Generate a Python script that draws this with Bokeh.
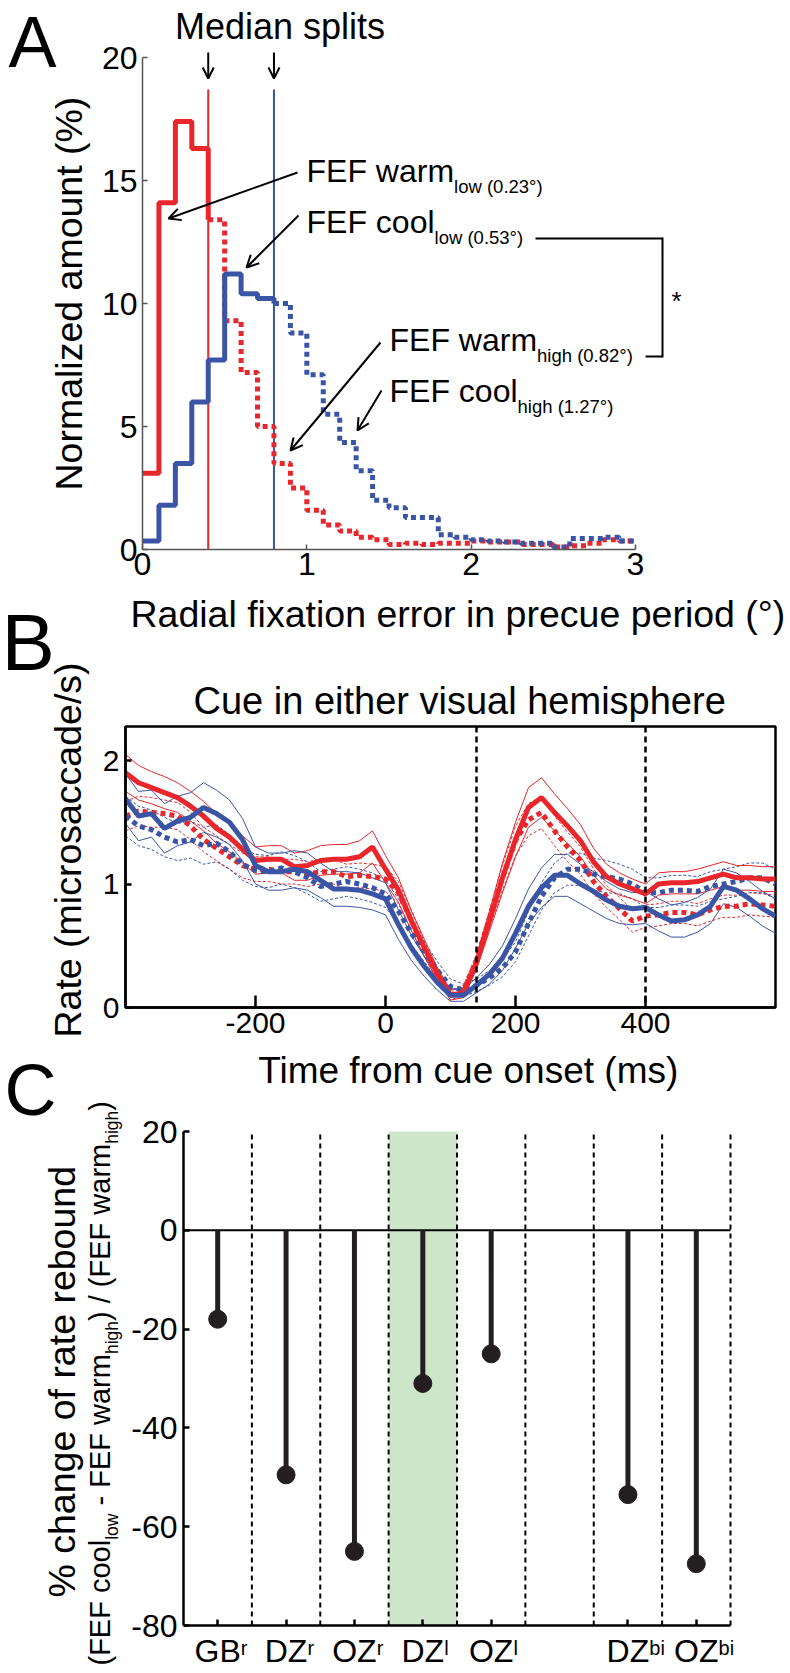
import math
from bokeh.plotting import figure
from bokeh.layouts import column, row
from bokeh.models import Label, Arrow, OpenHead, Span, FixedTicker, Range1d, Title
from bokeh.embed import file_html
from bokeh.resources import INLINE

# ======================= DATA =======================
# Panel A: normalized histograms (%) of radial fixation error, 0.1 deg bins (0..3 deg)
bin_width = 0.1
warm_pct = [3.1, 14.1, 17.4, 16.3, 13.4, 9.3, 7.2, 5.0, 3.5, 2.5,
            1.6, 1.0, 0.75, 0.5, 0.4, 0.2, 0.25, 0.2, 0.25, 0.25,
            0.35, 0.3, 0.3, 0.2, 0.2, 0.1, 0.15, 0.25, 0.4, 0.35]
cool_pct = [0.35, 1.8, 3.5, 6.0, 7.7, 11.2, 10.4, 10.2, 10.0, 8.8,
            7.1, 5.5, 4.35, 3.2, 2.0, 1.7, 1.3, 1.3, 0.6, 0.5,
            0.4, 0.35, 0.3, 0.25, 0.25, 0.1, 0.45, 0.45, 0.5, 0.35]
median_warm = 0.4
median_cool = 0.8
median_line_top = 18.7
a_labels = [("FEF warm", "low (0.23°)"), ("FEF cool", "low (0.53°)"),
            ("FEF warm", "high (0.82°)"), ("FEF cool", "high (1.27°)")]
a_xticks = [0, 1, 2, 3]
a_yticks = [0, 5, 10, 15, 20]

# Panel B: microsaccade rate (microsaccades/s) vs time from cue onset
time_ms = list(range(-400, 601, 20))
warm_low = [1.90, 1.82, 1.78, 1.74, 1.70, 1.63, 1.55, 1.45, 1.38, 1.28, 1.19,
            1.20, 1.20, 1.14, 1.15, 1.19, 1.20, 1.20, 1.22, 1.30, 1.12,
            0.95, 0.70, 0.48, 0.27, 0.10, 0.12, 0.36, 0.70, 1.05, 1.36,
            1.62, 1.70, 1.58, 1.47, 1.35, 1.18, 1.06, 1.00, 0.96, 0.92,
            1.00, 1.01, 1.01, 1.02, 1.05, 1.08, 1.05, 1.05, 1.04, 1.04]
warm_low_sem = [0.15, 0.14, 0.13, 0.13, 0.12, 0.12, 0.12, 0.12, 0.12, 0.11, 0.11,
                0.11, 0.11, 0.11, 0.12, 0.12, 0.12, 0.12, 0.13, 0.13, 0.11,
                0.10, 0.08, 0.07, 0.05, 0.04, 0.04, 0.05, 0.08, 0.12, 0.14,
                0.16, 0.16, 0.15, 0.14, 0.13, 0.11, 0.10, 0.09, 0.08, 0.08,
                0.09, 0.09, 0.09, 0.10, 0.10, 0.10, 0.10, 0.10, 0.10, 0.10]
cool_low = [1.69, 1.55, 1.57, 1.45, 1.51, 1.54, 1.62, 1.57, 1.50, 1.36, 1.15,
            1.10, 1.10, 1.12, 1.10, 1.03, 0.96, 0.96, 0.95, 0.92, 0.88,
            0.67, 0.48, 0.33, 0.20, 0.10, 0.10, 0.18, 0.27, 0.40, 0.60,
            0.82, 0.97, 1.07, 1.07, 1.00, 0.94, 0.87, 0.82, 0.80, 0.81,
            0.75, 0.70, 0.71, 0.75, 0.82, 0.98, 0.95, 0.88, 0.80, 0.74]
cool_low_sem = [0.20, 0.20, 0.19, 0.20, 0.20, 0.20, 0.20, 0.19, 0.18, 0.17, 0.15,
                0.15, 0.15, 0.15, 0.15, 0.14, 0.14, 0.14, 0.14, 0.13, 0.13,
                0.12, 0.10, 0.08, 0.06, 0.05, 0.05, 0.06, 0.08, 0.10, 0.12,
                0.14, 0.16, 0.17, 0.17, 0.16, 0.16, 0.15, 0.14, 0.13, 0.13,
                0.13, 0.13, 0.14, 0.14, 0.14, 0.14, 0.14, 0.14, 0.14, 0.14]
warm_high = [1.55, 1.59, 1.58, 1.57, 1.55, 1.47, 1.36, 1.29, 1.22, 1.15, 1.12,
             1.12, 1.10, 1.10, 1.08, 1.10, 1.10, 1.06, 1.07, 1.06, 1.04,
             0.93, 0.70, 0.47, 0.27, 0.10, 0.14, 0.38, 0.72, 1.05, 1.35,
             1.52, 1.58, 1.43, 1.30, 1.19, 1.02, 0.90, 0.80, 0.70, 0.74,
             0.75, 0.77, 0.77, 0.75, 0.79, 0.82, 0.82, 0.84, 0.83, 0.82]
warm_high_sem = [0.12, 0.12, 0.12, 0.11, 0.11, 0.11, 0.10, 0.10, 0.10, 0.10, 0.10,
                 0.10, 0.10, 0.10, 0.10, 0.10, 0.10, 0.10, 0.10, 0.10, 0.10,
                 0.09, 0.08, 0.06, 0.05, 0.04, 0.04, 0.05, 0.07, 0.10, 0.12,
                 0.13, 0.13, 0.12, 0.12, 0.11, 0.10, 0.09, 0.09, 0.09, 0.09,
                 0.09, 0.09, 0.09, 0.09, 0.09, 0.09, 0.09, 0.09, 0.09, 0.09]
cool_high = [1.55, 1.47, 1.44, 1.38, 1.34, 1.36, 1.31, 1.33, 1.26, 1.16, 1.11,
             1.10, 1.13, 1.10, 1.05, 0.98, 1.00, 1.02, 1.00, 0.97, 0.92,
             0.78, 0.60, 0.45, 0.30, 0.17, 0.14, 0.18, 0.24, 0.32, 0.45,
             0.68, 0.90, 1.05, 1.12, 1.12, 1.08, 1.06, 1.04, 1.00, 0.93,
             0.93, 0.95, 0.95, 0.94, 0.98, 1.00, 1.02, 1.05, 1.05, 1.00]
cool_high_sem = [0.16, 0.16, 0.16, 0.16, 0.15, 0.15, 0.15, 0.15, 0.14, 0.13, 0.13,
                 0.13, 0.13, 0.13, 0.13, 0.12, 0.12, 0.12, 0.12, 0.12, 0.11,
                 0.10, 0.09, 0.08, 0.07, 0.06, 0.05, 0.05, 0.06, 0.07, 0.08,
                 0.10, 0.11, 0.12, 0.13, 0.13, 0.13, 0.13, 0.12, 0.12, 0.12,
                 0.12, 0.12, 0.12, 0.12, 0.12, 0.12, 0.12, 0.12, 0.12, 0.12]
event_times = [140, 400]
b_xticks = [-200, 0, 200, 400]
b_yticks = [0, 1, 2]

# Panel C: % change of rate rebound per inactivation site
sites = ["GB", "DZ", "OZ", "DZ", "OZ", "DZ", "OZ"]
sides = ["r", "r", "r", "l", "l", "bi", "bi"]
site_pos = [1, 2, 3, 4, 5, 7, 8]
pct_change = [-18, -49.5, -65, -31, -25, -53.5, -67.5]
separators = [1.5, 2.5, 3.5, 4.5, 5.5, 6.5, 7.5, 8.5]
highlight_span = [3.5, 4.5]
c_xbounds = [0.5, 8.5]
c_yticks = [-80, -60, -40, -20, 0, 20]

# ======================= STYLE / LAYOUT =======================
FONT = "Liberation Sans"
RED = "#E8262B"
BLUE = "#3A55A5"
DARK = "#231F20"
GREEN = "#CDE6C9"
K = 0.347   # baseline offset below the text-box centre, in em

AW = {' ': 278, '(': 333, ')': 333, '-': 333, '.': 278, '/': 278, '%': 889, '*': 389, '°': 400,
      'A': 667, 'B': 667, 'C': 722, 'D': 722, 'E': 667, 'F': 611, 'G': 778, 'M': 833, 'N': 722,
      'O': 778, 'R': 722, 'T': 611, 'Z': 611,
      'a': 556, 'b': 556, 'c': 500, 'd': 556, 'e': 556, 'f': 278, 'g': 556, 'h': 556, 'i': 222,
      'l': 222, 'm': 833, 'n': 556, 'o': 556, 'p': 556, 'r': 333, 's': 500, 't': 278, 'u': 556,
      'v': 500, 'w': 722, 'x': 500, 'z': 500}


def tw(s, size):
    return sum(AW.get(ch, 556) for ch in s) * size / 1000.0


def lin(d0, p0, d1, p1):
    s = (p1 - p0) / (d1 - d0)
    return (lambda P: d0 + (P - p0) / s)


def no_align(p):
    try:
        p.frame_align = False
    except Exception:
        pass


def make_main(canvas, frame, xmap, ymap):
    """canvas/frame = (left, right, top, bottom) in page pixels; xmap/ymap = (d0, p0, d1, p1)."""
    cl, cr, ct, cb = canvas
    fl, fr, ft, fb = frame
    fx = lin(*xmap)
    fy = lin(*ymap)
    p = figure(width=cr - cl, height=cb - ct, x_range=Range1d(fx(fl), fx(fr)),
               y_range=Range1d(fy(fb), fy(ft)), title=None,
               output_backend="svg", toolbar_location=None,
               min_border_left=fl - cl, min_border_right=cr - fr,
               min_border_top=ft - ct, min_border_bottom=cb - fb)
    p.xgrid.visible = False
    p.ygrid.visible = False
    p.outline_line_color = None
    no_align(p)
    return p, (lambda X, Y: (fx(X), fy(Y)))


def make_strip(canvas, xr=None):
    cl, cr, ct, cb = canvas
    p = figure(width=cr - cl, height=cb - ct,
               x_range=Range1d(*(xr if xr else (cl, cr))), y_range=Range1d(cb, ct),
               title=None, x_axis_type=None, y_axis_type=None,
               output_backend="svg", toolbar_location=None,
               min_border_left=0, min_border_right=0, min_border_top=0, min_border_bottom=0)
    p.xgrid.visible = False
    p.ygrid.visible = False
    p.outline_line_color = None
    no_align(p)
    return p, (lambda X, Y: (X, Y))


def style_axes(p, color, width, label_size, xtick_in, ytick_in, xstand, ystand):
    for ax in (p.xaxis[0], p.yaxis[0]):
        ax.axis_line_color = color
        ax.axis_line_width = width
        ax.major_tick_line_color = color
        ax.major_tick_line_width = width
        ax.major_tick_out = 0
        ax.minor_tick_line_color = None
        ax.major_label_text_font = FONT
        ax.major_label_text_font_size = f"{label_size}px"
        ax.major_label_text_color = "black"
    p.xaxis[0].major_tick_in = xtick_in
    p.yaxis[0].major_tick_in = ytick_in
    p.xaxis[0].major_label_standoff = xstand
    p.yaxis[0].major_label_standoff = ystand


def hyphen_labels(ticks):
    return {t: str(t) for t in ticks}


def add_rich(p, tf, X, Y, pieces, vertical=False):
    """Each piece: (text, size, baseline shift). X,Y = start of the baseline (page px)."""
    off = 0.0
    for text, size, shift in pieces:
        core = text.strip()
        lead = tw(text[:len(text) - len(text.lstrip())], size)
        w = tw(core, size)
        if vertical:
            xa, ya, ang = X + shift - K * size, Y - off - lead - w / 2, math.pi / 2
        else:
            xa, ya, ang = X + off + lead + w / 2, Y + shift - K * size, 0.0
        x, y = tf(xa, ya)
        p.add_layout(Label(x=x, y=y, text=core, text_font=FONT, text_font_size=f"{size}px",
                           text_align="center", text_baseline="middle", angle=ang,
                           text_color="black"))
        off += tw(text, size)


def add_text(p, tf, X, Y, text, size, align="left", vertical=False):
    if align == "center":
        X = X - tw(text, size) / 2
    add_rich(p, tf, X, Y, [(text, size, 0)], vertical=vertical)


def add_seg(p, tf, P0, P1, head=None, width=2):
    x0, y0 = tf(*P0)
    x1, y1 = tf(*P1)
    p.add_layout(Arrow(end=head, x_start=x0, y_start=y0, x_end=x1, y_end=y1,
                       line_color="black", line_width=width))


def staircase(vals, i0, i1):
    xs, ys = [], []
    for i in range(i0, i1):
        lo = i * bin_width
        xs += [lo, lo + bin_width]
        ys += [vals[i], vals[i]]
    return xs, ys


# ======================= PANEL A =======================
pA, tfA = make_main((95, 790, 0, 592), (142, 790, 0, 549), (0, 142, 3, 635), (0, 549, 20, 57))
style_axes(pA, "#555555", 1.5, 32, 5, 5, 3, 5)
pA.xaxis.ticker = FixedTicker(ticks=a_xticks)
pA.yaxis.ticker = FixedTicker(ticks=a_yticks)
pA.xaxis.bounds = (a_xticks[0], a_xticks[-1])
pA.yaxis.bounds = (a_yticks[0], a_yticks[-1])

iw = round(median_warm / bin_width)
ic = round(median_cool / bin_width)
nb = len(warm_pct)

pA.segment(x0=[median_warm, median_cool], y0=[0, 0], x1=[median_warm, median_cool],
           y1=[median_line_top, median_line_top], line_color=[RED, BLUE], line_width=2)
xs, ys = staircase(warm_pct, iw, nb)
pA.line(xs, ys, line_color=RED, line_width=5, line_dash="5 4")
xs, ys = staircase(cool_pct, ic, nb)
pA.line(xs, ys, line_color=BLUE, line_width=5, line_dash="5 4")
xs, ys = staircase(warm_pct, 0, iw)
pA.line(xs + [median_warm], ys + [warm_pct[iw]], line_color=RED, line_width=5)
xs, ys = staircase(cool_pct, 0, ic)
pA.line(xs + [median_cool], ys + [cool_pct[ic]], line_color=BLUE, line_width=5)

add_text(pA, tfA, 279.5, 38, "Median splits", 36, align="center")
for med in (median_warm, median_cool):
    y0 = tfA(0, 52)[1]
    y1 = tfA(0, 78)[1]
    pA.add_layout(Arrow(end=OpenHead(size=11, line_width=2), x_start=med, y_start=y0,
                        x_end=med, y_end=y1, line_color="black", line_width=2))

label_pos = [(306, 182), (306, 233), (389, 351), (389, 402)]
for (main, sub), (X, Y) in zip(a_labels, label_pos):
    add_rich(pA, tfA, X, Y, [(main, 32, 0), (sub, 18.5, 10)])

arrowsA = [((297, 172), (168, 218)), ((298, 215), (246, 267)),
           ((380, 342), (290, 450)), ((381, 390), (357, 430))]
for P0, P1 in arrowsA:
    add_seg(pA, tfA, P0, P1, head=OpenHead(size=12, line_width=2))

add_seg(pA, tfA, (535, 238), (662, 238))
add_seg(pA, tfA, (662, 237), (662, 357))
add_seg(pA, tfA, (662, 356), (645, 356))
add_text(pA, tfA, 671, 310, "*", 26)

sA, tsA = make_strip((0, 95, 0, 592))
add_text(sA, tsA, 8, 66, "A", 72)
add_text(sA, tsA, 82, 490, "Normalized amount (%)", 37.5, vertical=True)

# ======================= PANEL B =======================
sR, tsR = make_strip((95, 790, 592, 645))
add_text(sR, tsR, 130, 627, "Radial fixation error in precue period (°)", 37.5)

pB, tfB = make_main((95, 790, 645, 1048), (125, 775, 726, 1007), (-400, 125, 600, 775), (0, 1007, 2, 760))
style_axes(pB, "black", 2.5, 30, 12, 6, 5, 6)
pB.outline_line_color = "black"
pB.outline_line_width = 2.5
pB.xaxis.ticker = FixedTicker(ticks=b_xticks)
pB.yaxis.ticker = FixedTicker(ticks=b_yticks)
pB.xaxis.major_label_overrides = hyphen_labels(b_xticks)
pB.title = Title(text="Cue in either visual hemisphere", text_font=FONT, text_font_size="38px",
                 text_font_style="normal", text_color="black", align="left", offset=68)
try:
    pB.title.standoff = 10
except AttributeError:
    pass

series = [(warm_high, warm_high_sem, RED, True), (cool_high, cool_high_sem, BLUE, True),
          (warm_low, warm_low_sem, RED, False), (cool_low, cool_low_sem, BLUE, False)]
for mean, sem, col, dotted in series:
    up = [m + s for m, s in zip(mean, sem)]
    lo = [m - s for m, s in zip(mean, sem)]
    dash = "3 2" if dotted else "solid"
    pB.line(time_ms, up, line_color=col, line_width=1, line_dash=dash)
    pB.line(time_ms, lo, line_color=col, line_width=1, line_dash=dash)
for mean, sem, col, dotted in series:
    if dotted:
        pB.line(time_ms, mean, line_color=col, line_width=5, line_dash="5 4")
for mean, sem, col, dotted in series:
    if not dotted:
        pB.line(time_ms, mean, line_color=col, line_width=5)
for t in event_times:
    pB.add_layout(Span(location=t, dimension="height", line_color="black",
                       line_width=2.5, line_dash="6 4"))

sB, tsB = make_strip((0, 95, 592, 1048))
add_text(sB, tsB, 1, 670, "B", 80)
add_text(sB, tsB, 81, 1037, "Rate (microsaccade/s)", 37.5, vertical=True)

# ======================= PANEL C =======================
c_xmap = (0.5, 183, 8.5, 730)
pC, tfC = make_main((125, 790, 1048, 1673), (183, 790, 1048, 1670), c_xmap, (-80, 1625, 20, 1131))
style_axes(pC, "black", 2.5, 32, 6, 6, 0, 6)
pC.xaxis.ticker = FixedTicker(ticks=site_pos)
pC.yaxis.ticker = FixedTicker(ticks=c_yticks)
pC.yaxis.major_label_overrides = hyphen_labels(c_yticks)
pC.xaxis.bounds = (c_xbounds[0], c_xbounds[1])
pC.yaxis.bounds = (c_yticks[0], c_yticks[-1])
pC.xaxis.fixed_location = c_yticks[0]
pC.xaxis.major_label_text_font_size = "1px"
pC.xaxis.major_label_text_alpha = 0

pC.quad(left=[highlight_span[0]], right=[highlight_span[1]], bottom=[c_yticks[0]], top=[c_yticks[-1]],
        fill_color=GREEN, line_color=None)
pC.segment(x0=separators, y0=[c_yticks[0]] * len(separators), x1=separators,
           y1=[c_yticks[-1]] * len(separators), line_color="black", line_width=2, line_dash="5 4")
pC.segment(x0=[c_xbounds[0]], y0=[0], x1=[c_xbounds[1]], y1=[0], line_color="black", line_width=2)
pC.segment(x0=site_pos, y0=[0] * len(site_pos), x1=site_pos, y1=pct_change,
           line_color=DARK, line_width=5)
pC.scatter(site_pos, pct_change, size=18, marker="circle", fill_color=DARK, line_color=DARK)
add_text(pC, tfC, 257, 1083, "Time from cue onset (ms)", 37)

y_main = tfC(0, 1662 - K * 32)[1]
y_sup = tfC(0, 1654 - K * 20)[1]
for pos, site, side in zip(site_pos, sites, sides):
    w = tw(site, 32)
    ws = tw(side, 20)
    pC.add_layout(Label(x=pos, y=y_main, text=site, text_font=FONT, text_color="black",
                        text_font_size="32px", text_baseline="middle", text_align="center"))
    pC.add_layout(Label(x=pos, y=y_sup, x_offset=w / 2 + ws / 2, text=side, text_font=FONT,
                        text_color="black", text_font_size="20px", text_baseline="middle",
                        text_align="center"))

sC, tsC = make_strip((0, 125, 1048, 1673))
add_text(sC, tsC, 4, 1114, "C", 72)
add_text(sC, tsC, 75, 1597, "% change of rate rebound", 37.5, vertical=True)
add_rich(sC, tsC, 110, 1665, [("(FEF cool", 29, 0), ("low", 17.5, 8), (" - FEF warm", 29, 0),
                               ("high", 17.5, 8), (") / (FEF warm", 29, 0), ("high", 17.5, 8),
                               (")", 29, 0)], vertical=True)

layout = column(row(sA, pA, spacing=0),
                row(sB, column(sR, pB, spacing=0), spacing=0),
                row(sC, pC, spacing=0), spacing=0)
open("out.html", "w").write(file_html(layout, INLINE))
